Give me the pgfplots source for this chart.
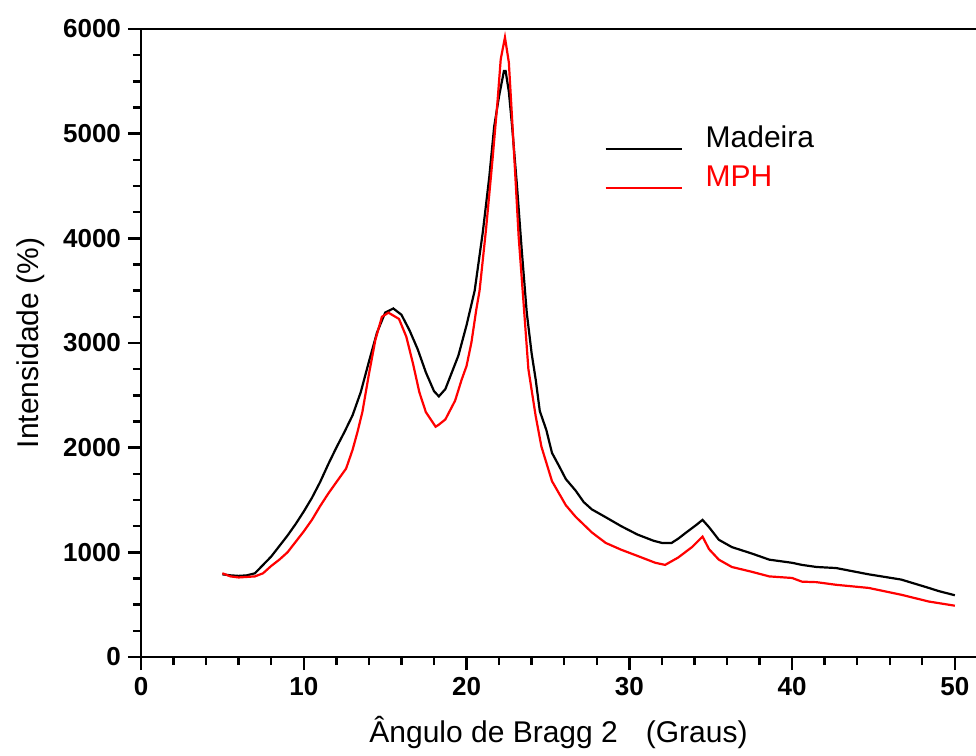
\documentclass[border=0pt]{standalone}
\usepackage{pgfplots}
\pgfplotsset{compat=1.18}
\usepackage{fontspec}
\setmainfont{Liberation Sans}
\pgfplotstableread{
x y
5.0 790
5.5 780
6.0 775
6.5 780
7.0 800
7.5 880
8.0 960
8.5 1060
9.0 1160
9.5 1270
10.0 1390
10.5 1520
11.0 1670
11.5 1840
12.0 2000
12.5 2150
13.0 2310
13.5 2530
14.0 2820
14.5 3100
15.0 3290
15.5 3330
16.0 3270
16.5 3120
17.0 2940
17.5 2720
18.0 2540
18.3 2490
18.7 2560
19.0 2680
19.5 2880
20.0 3170
20.5 3500
21.0 4060
21.4 4590
21.7 5070
22.0 5360
22.3 5600
22.4 5600
22.6 5400
22.8 5070
23.1 4500
23.4 3870
23.7 3290
24.0 2900
24.25 2650
24.5 2350
24.9 2170
25.25 1950
25.7 1820
26.1 1700
26.7 1590
27.2 1480
27.7 1410
28.5 1340
29.5 1250
30.5 1170
31.5 1110
32.0 1090
32.6 1090
33.0 1130
33.5 1190
34.1 1260
34.5 1310
34.9 1240
35.5 1120
36.3 1050
37.5 990
38.6 930
40.0 900
40.6 880
41.5 860
42.7 850
44.7 790
46.7 740
48.4 660
49.0 630
50.0 590
}\madeira
\pgfplotstableread{
x y
5.0 800
5.5 770
6.0 760
6.5 765
7.0 770
7.5 800
8.0 870
8.5 930
9.0 1000
9.5 1100
10.0 1200
10.5 1310
11.0 1440
11.5 1560
12.0 1670
12.6 1800
13.0 1980
13.3 2150
13.6 2340
14.0 2700
14.4 3030
14.8 3250
15.2 3290
15.85 3230
16.3 3060
16.7 2810
17.1 2530
17.5 2340
18.1 2200
18.3 2220
18.7 2270
19.3 2450
19.7 2650
20.0 2780
20.3 3005
20.6 3320
20.8 3500
21.2 4090
21.6 4760
21.9 5300
22.1 5710
22.36 5920
22.6 5680
22.8 5140
23.0 4590
23.2 4020
23.5 3390
23.8 2750
24.25 2300
24.6 2010
25.25 1680
26.1 1450
26.7 1340
27.7 1190
28.55 1090
29.5 1025
30.6 960
31.6 900
32.2 880
33.0 950
33.85 1050
34.5 1150
34.9 1030
35.5 930
36.3 860
37.5 815
38.6 770
40.0 755
40.6 720
41.5 715
42.7 690
44.7 660
46.7 595
48.4 530
50.0 490
}\mph
\begin{document}
\begin{tikzpicture}
\begin{axis}[
  at={(70.5pt,49.5pt)}, anchor=south west,
  scale only axis, width=417.5pt, height=314pt,
  xmin=0, xmax=51.3, ymin=0, ymax=6000,
  clip=false,
  axis x line=bottom, axis y line=left,
  axis line style={line width=1.3pt, -},
  xtick={0,10,...,50}, minor x tick num=4,
  ytick={0,1000,...,6000}, minor y tick num=3,
  tick align=outside,
  major tick length=6.5pt, minor tick length=4pt,
  every tick/.style={line width=1.2pt, black},
  /pgf/number format/assume math mode=true,
  /pgf/number format/1000 sep={},
  ticklabel style={font=\bfseries\fontsize{13}{15}\selectfont},
  xlabel={Ângulo de Bragg 2\hspace{14pt}(Graus)},
  ylabel={Intensidade (\%)},
  label style={font=\fontsize{15}{18}\selectfont},
  xlabel style={at={(axis description cs:0.5,-0.1356)}, anchor=base},
  ylabel style={at={(axis description cs:-0.1222,0.5)}, anchor=base},
  legend style={draw=none, fill=none, at={(axis cs:28.47,5080)}, anchor=north west,
    inner sep=0pt, font=\fontsize{15}{18}\selectfont, row sep=7.5pt,
    nodes={inner sep=0pt}},
  legend cell align=left,
  legend image code/.code={\draw[#1, line width=0.8pt] (0pt,-5.5pt) -- (38pt,-5.5pt); \path (49.5pt,0pt);},
]
\addplot[black, line width=1.1pt] table[x=x,y=y] {\madeira};
\addlegendentry{Madeira}
\addplot[red, line width=1.1pt] table[x=x,y=y] {\mph};
\addlegendentry{\textcolor{red}{MPH}}
\draw[line width=1.3pt] (rel axis cs:0,1) -- (rel axis cs:1,1);
\end{axis}
\pgfresetboundingbox
\path[use as bounding box] (0,0) rectangle (488pt,378pt);
\end{tikzpicture}
\end{document}
